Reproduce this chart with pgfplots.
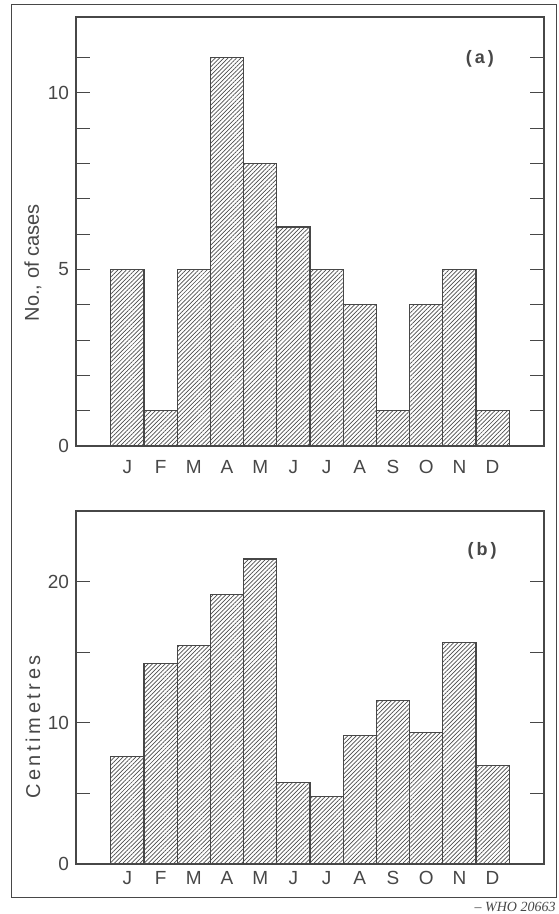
\documentclass[border=0pt]{standalone}
\usepackage{fontspec}
\setmainfont{Liberation Sans}
\newfontfamily\serifit[Ligatures=TeX]{Liberation Serif}
\usepackage{pgfplots}
\pgfplotsset{compat=1.18}
\usetikzlibrary{patterns.meta}
\definecolor{ink}{gray}{0.28}
\begin{document}
\begin{tikzpicture}
\useasboundingbox (0,0) rectangle (279pt,457pt);
\draw[ink, line width=0.5pt] (5.5pt,8pt) rectangle (278pt,454.5pt);
\pgfplotsset{
  monthbars/.style={
    scale only axis, width=234pt, anchor=south west,
    xmin=-0.55, xmax=13.55, ymin=0,
    xtick={1,...,12}, xticklabels={J,F,M,A,M,J,J,A,S,O,N,D},
    x tick style={draw=none},
    tick align=inside, ytick pos=both, yticklabel pos=left,
    major tick length=7pt,
    axis line style={ink, line width=0.6pt},
    y tick style={ink, line width=0.5pt},
    tick label style={font=\fontsize{9.5}{10}\selectfont, text=ink},
    /pgf/number format/assume math mode=true,
    ylabel style={font=\fontsize{10}{12}\selectfont, text=ink, anchor=center},
  },
  hatch/.style={ybar, bar width=1, draw=ink, line width=0.6pt,
    pattern={Lines[angle=45,distance=1.5pt,line width=0.35pt]}, pattern color=black!70},
}
\begin{axis}[monthbars, at={(38pt,234pt)}, height=214.5pt, ymax=12.15,
  ytick={0,...,11}, yticklabels={0,,,,,5,,,,,10,},
  xticklabel style={yshift=-3.5pt},
  ylabel={No., of cases},
  ylabel style={at={(axis description cs:-0.092,0.427)}},
]
\addplot[hatch] coordinates {(1,5) (2,1) (3,5) (4,11) (5,8) (6,6.2) (7,5) (8,4) (9,1) (10,4) (11,5) (12,1)};
\node[font=\bfseries\fontsize{9}{10}\selectfont, text=ink] at (axis description cs:0.863,0.902) {(\,a\,)};
\end{axis}
\begin{axis}[monthbars, at={(38pt,25pt)}, height=176.5pt, ymax=25,
  ytick={0,5,...,20}, yticklabels={0,,10,,20},
  ylabel={\addfontfeature{LetterSpace=18}Centimetres},
  ylabel style={at={(axis description cs:-0.092,0.388)}},
]
\addplot[hatch] coordinates {(1,7.6) (2,14.2) (3,15.5) (4,19.1) (5,21.6) (6,5.8) (7,4.8) (8,9.1) (9,11.6) (10,9.3) (11,15.7) (12,7.0)};
\node[font=\bfseries\fontsize{9}{10}\selectfont, text=ink] at (axis description cs:0.868,0.887) {(\,b\,)};
\end{axis}
\node[anchor=east, inner sep=0pt, text=ink, font=\serifit\itshape\fontsize{7}{8}\selectfont] at (278pt,3.5pt) {\textendash\ WHO 20663};
\end{tikzpicture}
\end{document}
